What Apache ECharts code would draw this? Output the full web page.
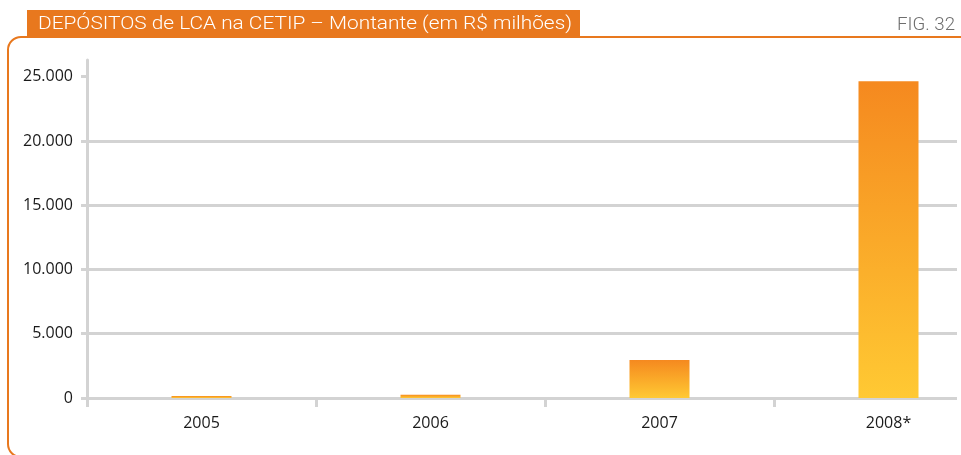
<!DOCTYPE html>
<html>
<head>
<meta charset="utf-8">
<script src="https://cdn.jsdelivr.net/npm/echarts@6/dist/echarts.min.js"></script>
<style>
html, body { margin: 0; padding: 0; background: #fff; }
#chart0 { width: 961px; height: 455px; }
</style>
</head>
<body>
<div id="chart0"></div>
<script>
'use strict';

// dados
var years = ['2005', '2006', '2007', '2008*'];
var montante = [155, 260, 2960, 24650];
var y_ticks = [0, 5000, 10000, 15000, 20000, 25000];
var axis_top = 26300; // eixo vertical passa um pouco acima de 25.000

var title_text = 'DEPÓSITOS de LCA na CETIP – Montante (em R$ milhões)';
var fig_text = 'FIG. 32';

var orange = '#E8781E';
var gray_line = '#d3d3d3';
var label_font = '"Open Sans", sans-serif';
var title_font = '300 19px Roboto, "Liberation Sans", sans-serif';

function fmt(v) {
	return String(v).replace(/\B(?=(\d{3})+(?!\d))/g, '.');
}

// largura do texto para comprimir o titulo como no original
function text_width(txt, font) {
	var ctx = document.createElement('canvas').getContext('2d');
	ctx.font = font;
	return ctx.measureText(txt).width;
}
var title_scale = 534 / text_width(title_text, title_font);
var fig_scale = 58 / text_width(fig_text, title_font);

var chart0 = echarts.init(document.getElementById('chart0'));
chart0.setOption({
	animation : false,
	grid : {
		left : 87,
		right : -42,
		top : 60,
		bottom : 57,
		containLabel : false,
		outerBoundsMode : 'none'
	},
	xAxis : {
		type : 'category',
		data : years,
		boundaryGap : true,
		axisLine : {
			lineStyle : { color : gray_line, width : 3 }
		},
		axisTick : {
			show : true,
			length : 9,
			lineStyle : { color : gray_line, width : 3 }
		},
		axisLabel : {
			color : '#1a1a1a',
			fontFamily : label_font,
			fontSize : 16,
			margin : 17
		}
	},
	yAxis : {
		type : 'value',
		min : 0,
		max : axis_top,
		axisLine : {
			show : true,
			lineStyle : { color : gray_line, width : 3 }
		},
		axisTick : {
			show : true,
			length : 6,
			customValues : y_ticks,
			lineStyle : { color : gray_line, width : 3 }
		},
		axisLabel : {
			color : '#1a1a1a',
			fontFamily : label_font,
			fontSize : 16,
			margin : 14,
			customValues : y_ticks,
			formatter : function(v) {
				return fmt(v);
			}
		},
		splitLine : {
			show : true,
			showMaxLine : false,
			lineStyle : { color : gray_line, width : 3 }
		}
	},
	series : [ {
		type : 'bar',
		data : montante,
		barWidth : 60,
		itemStyle : {
			color : new echarts.graphic.LinearGradient(0, 0, 0, 1, [
				{ offset : 0, color : '#F5891F' },
				{ offset : 1, color : '#FFC933' }
			])
		}
	} ],
	graphic : [ {
		type : 'rect',
		z : 100,
		shape : { x : 957, y : 50, width : 10, height : 362 },
		style : { fill : '#fff' }
	}, {
		type : 'rect',
		z : 101,
		shape : { x : 8, y : 37, width : 1000, height : 420, r : 13 },
		style : { fill : null, stroke : orange, lineWidth : 2 }
	}, {
		type : 'rect',
		z : 102,
		shape : { x : 27, y : 10, width : 553, height : 28 },
		style : { fill : orange }
	}, {
		type : 'text',
		z : 103,
		x : 38,
		y : 24,
		scaleX : title_scale,
		style : {
			text : title_text,
			fill : '#fff',
			font : title_font,
			verticalAlign : 'middle'
		}
	}, {
		type : 'text',
		z : 103,
		x : 897,
		y : 25,
		scaleX : fig_scale,
		style : {
			text : fig_text,
			fill : '#6e6e6e',
			font : title_font,
			verticalAlign : 'middle'
		}
	} ]
});
</script>
</body>
</html>
